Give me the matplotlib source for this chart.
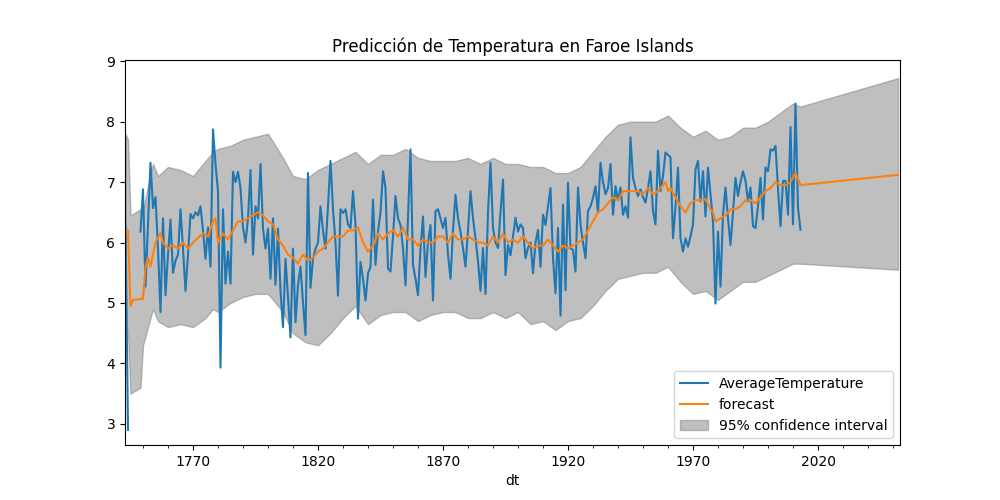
import numpy as np
import matplotlib
matplotlib.use("Agg")
import matplotlib.pyplot as plt
from matplotlib.ticker import MultipleLocator

obs_years = [1743, 1744, 1745, 1748] + list(range(1749, 2014))
obs_vals = [6.3, 2.9, np.nan, np.nan,
 6.18, 6.88, 5.27, 6.3, 7.32, 6.57, 6.75, 5.9, 4.85, 6.4, 5.13, 5.8, 6.38, 5.5, 5.7, 5.8,
 6.55, 5.9, 5.2, 5.8, 6.47, 6.4, 6.5, 6.45, 6.6, 6.2, 5.73, 6.25, 5.6, 7.87, 7.3,
 6.85, 3.93, 6.55, 5.32, 5.85, 5.32, 7.17, 7.0, 7.17, 6.9, 6.25, 6.0, 6.4, 7.2, 5.8,
 6.6, 6.4, 7.3, 6.23, 5.9, 6.23, 5.4, 6.4, 5.3, 6.23, 5.2, 4.6, 5.73, 5.1, 4.43,
 5.9, 4.68, 5.3, 5.6, 5.0, 4.47, 7.15, 5.25, 5.73, 5.9, 6.0, 6.6, 6.2, 5.9, 6.6,
 7.35, 6.55, 6.0, 5.12, 6.55, 6.49, 6.55, 6.3, 6.24, 6.85, 6.3, 4.74, 5.68, 5.4, 5.04,
 5.49, 5.6, 6.71, 5.63, 6.18, 6.5, 7.18, 6.9, 5.57, 5.52, 6.1, 6.77, 6.4, 6.29, 5.9,
 5.29, 6.4, 7.54, 5.63, 5.4, 5.13, 5.9, 6.43, 5.43, 6.0, 6.29, 5.04, 6.52, 6.55, 6.4,
 6.24, 6.41, 5.8, 5.4, 6.2, 6.79, 6.4, 6.18, 5.91, 5.6, 6.2, 6.85, 6.4, 6.07, 5.7,
 5.2, 5.91, 5.15, 6.5, 7.32, 6.24, 6.0, 5.91, 6.5, 7.04, 5.46, 5.96, 5.79, 6.1, 6.41,
 6.18, 6.3, 6.24, 5.74, 5.91, 6.0, 5.49, 6.0, 6.21, 5.6, 6.46, 6.29, 6.6, 6.9, 5.74,
 5.16, 6.24, 4.79, 6.63, 5.21, 6.99, 5.9, 5.88, 5.52, 6.91, 6.3, 6.0, 5.74, 6.52, 6.6,
 6.74, 6.93, 6.49, 7.32, 7.0, 6.8, 6.9, 7.3, 6.46, 6.93, 6.7, 6.91, 6.46, 6.6, 6.41,
 7.74, 7.07, 6.9, 6.77, 6.88, 6.75, 6.66, 6.9, 7.18, 6.52, 6.3, 7.52, 6.85, 7.1, 7.49,
 7.45, 7.41, 6.07, 6.6, 7.24, 6.07, 5.85, 6.07, 5.93, 6.1, 6.3, 7.21, 7.35, 6.68, 7.18,
 6.43, 7.24, 6.8, 6.35, 4.99, 6.18, 5.27, 6.46, 6.91, 6.4, 5.96, 6.5, 7.07, 6.77, 7.0,
 7.18, 7.02, 6.68, 6.91, 6.27, 6.24, 6.6, 7.07, 6.38, 7.24, 7.18, 7.54, 7.52, 7.6, 6.9,
 6.27, 7.02, 7.02, 6.46, 7.91, 6.3, 8.3, 6.57, 6.21]

fc_years = [1743, 1744, 1745, 1746, 1750, 1751, 1752, 1753, 1755, 1757, 1758, 1760, 1762, 1764,
 1766, 1768, 1770, 1774, 1776, 1778, 1779, 1780, 1782, 1784, 1786, 1788, 1790, 1792, 1794,
 1796, 1798, 1800, 1802, 1804, 1806, 1808, 1810, 1812, 1814, 1816, 1818, 1820, 1822, 1824,
 1826, 1828, 1830, 1832, 1834, 1836, 1838, 1840, 1842, 1844, 1846, 1848, 1850, 1852, 1854,
 1856, 1858, 1860, 1862, 1864, 1866, 1868, 1870, 1872, 1874, 1876, 1878, 1880, 1882, 1884,
 1886, 1888, 1890, 1892, 1894, 1896, 1898, 1900, 1902, 1904, 1906, 1908, 1910, 1912, 1914,
 1916, 1918, 1920, 1922, 1924, 1926, 1928, 1930, 1932, 1934, 1936, 1938, 1940, 1942, 1944,
 1946, 1948, 1950, 1952, 1954, 1956, 1958, 1959, 1960, 1961, 1963, 1965, 1967, 1969, 1971,
 1973, 1975, 1977, 1978, 1979, 1981, 1983, 1985, 1987, 1989, 1991, 1993, 1995, 1997, 1999,
 2001, 2003, 2005, 2007, 2009, 2011, 2013, 2052]
fc_vals = [6.15, 6.2, 4.95, 5.05, 5.07, 5.6, 5.75, 5.6, 6.0, 6.15, 6.0, 5.9, 5.95, 5.9,
 6.0, 5.9, 6.0, 6.15, 6.1, 6.35, 6.4, 6.0, 6.15, 6.05, 6.2, 6.35, 6.35, 6.4, 6.45,
 6.5, 6.45, 6.35, 6.3, 6.05, 5.95, 5.8, 5.75, 5.65, 5.8, 5.7, 5.75, 5.85, 5.9, 6.0,
 6.1, 6.1, 6.1, 6.2, 6.2, 6.25, 6.0, 5.85, 5.95, 6.15, 6.05, 6.15, 6.2, 6.1, 6.25,
 6.05, 6.05, 5.95, 6.05, 6.0, 6.0, 6.1, 6.1, 6.0, 6.15, 6.05, 6.05, 6.1, 6.05, 6.0,
 6.0, 5.95, 6.1, 6.0, 6.15, 6.0, 6.05, 6.0, 6.1, 6.0, 5.9, 5.95, 5.95, 6.05, 5.95,
 5.85, 5.95, 5.9, 5.95, 6.0, 6.05, 6.2, 6.35, 6.5, 6.55, 6.65, 6.75, 6.7, 6.85, 6.85,
 6.85, 6.85, 6.8, 6.9, 6.8, 6.85, 6.95, 7.0, 6.85, 6.9, 6.75, 6.6, 6.5, 6.65, 6.7,
 6.7, 6.72, 6.55, 6.5, 6.35, 6.4, 6.45, 6.55, 6.55, 6.6, 6.7, 6.7, 6.65, 6.75, 6.85,
 6.9, 7.0, 6.95, 6.95, 7.0, 7.15, 6.95, 7.12]

ci_years = [1743, 1744, 1745, 1749, 1750, 1752, 1754, 1756, 1760, 1765, 1770, 1775, 1778, 1780,
 1785, 1790, 1795, 1800, 1803, 1806, 1810, 1815, 1820, 1825, 1830, 1835, 1840, 1845, 1850,
 1855, 1860, 1865, 1870, 1875, 1880, 1885, 1890, 1895, 1900, 1905, 1910, 1915, 1920, 1925,
 1930, 1935, 1940, 1945, 1950, 1955, 1960, 1965, 1970, 1975, 1980, 1985, 1990, 1995, 2000,
 2005, 2010, 2013, 2052]
ci_upper = [7.8, 7.7, 6.45, 6.55, 6.5, 6.95, 7.3, 7.1, 7.25, 7.2, 7.1, 7.35, 7.5, 7.55,
 7.6, 7.7, 7.75, 7.8, 7.6, 7.4, 7.1, 7.05, 7.2, 7.3, 7.4, 7.5, 7.3, 7.45, 7.45,
 7.55, 7.4, 7.35, 7.35, 7.35, 7.4, 7.3, 7.4, 7.3, 7.3, 7.25, 7.25, 7.15, 7.15, 7.25,
 7.5, 7.75, 7.95, 8.0, 8.0, 8.0, 8.1, 7.9, 7.75, 7.85, 7.7, 7.75, 7.9, 7.9, 8.0,
 8.15, 8.3, 8.25, 8.72]
ci_lower = [4.7, 4.5, 3.5, 3.6, 4.3, 4.6, 4.9, 4.7, 4.6, 4.65, 4.6, 4.75, 4.9, 4.85,
 5.0, 5.1, 5.15, 5.15, 5.0, 4.85, 4.5, 4.35, 4.3, 4.5, 4.75, 4.95, 4.65, 4.8, 4.85,
 4.85, 4.7, 4.8, 4.85, 4.85, 4.75, 4.75, 4.85, 4.75, 4.85, 4.65, 4.7, 4.55, 4.7, 4.75,
 4.95, 5.2, 5.4, 5.45, 5.5, 5.5, 5.6, 5.35, 5.15, 5.2, 5.05, 5.2, 5.35, 5.35, 5.45,
 5.55, 5.65, 5.65, 5.55]

fig, ax = plt.subplots(figsize=(10, 5), dpi=100)
ax.plot(obs_years, obs_vals, color="#1f77b4", label="AverageTemperature")
ax.plot(fc_years, fc_vals, color="#ff7f0e", label="forecast")
ax.fill_between(ci_years, ci_lower, ci_upper, color="gray", alpha=0.5,
                label="95% confidence interval")
ax.set_xlim(1742.8, 2052.8)
ax.set_ylim(2.65, 9.02)
ax.set_xticks([1770, 1820, 1870, 1920, 1970, 2020])
ax.xaxis.set_minor_locator(MultipleLocator(10))
ax.set_xlabel("dt")
ax.set_title("Predicción de Temperatura en Faroe Islands")
ax.legend(loc="lower right")
fig.savefig("out.png")
